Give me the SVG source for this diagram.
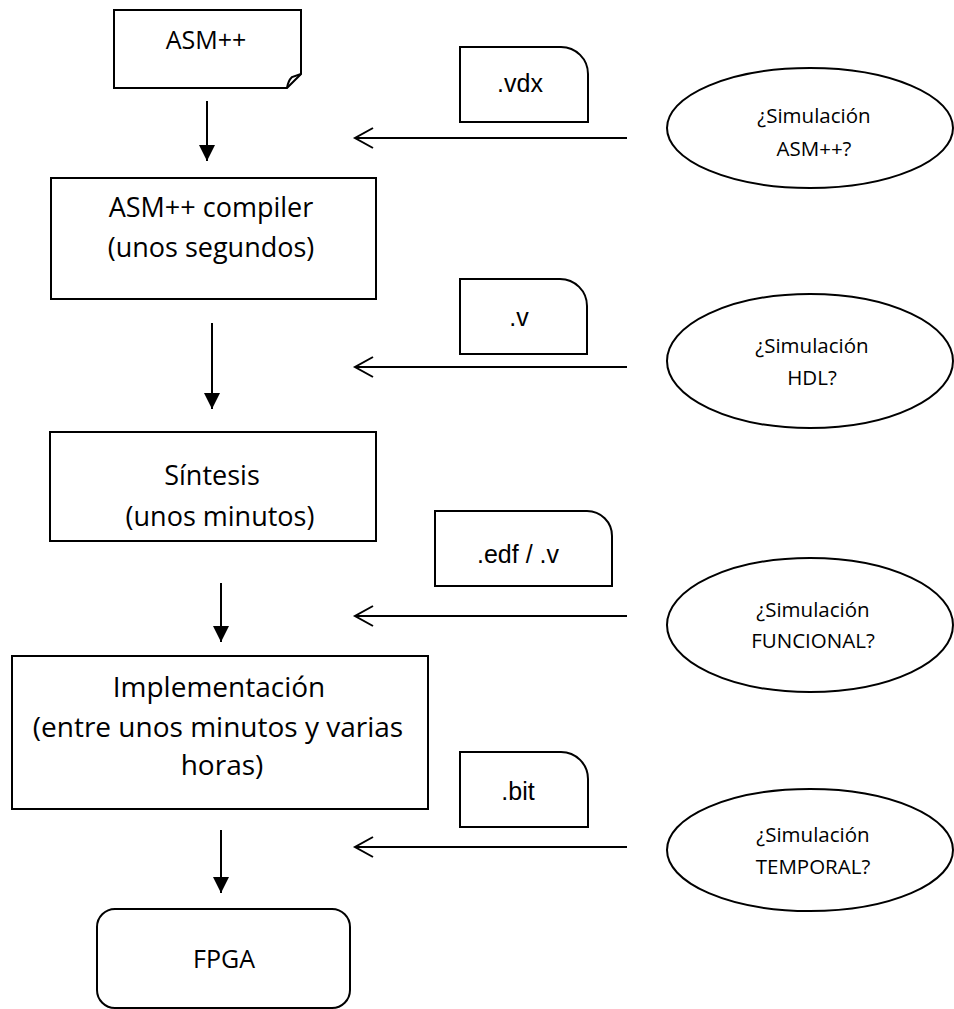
<svg xmlns="http://www.w3.org/2000/svg" width="954" height="1009" viewBox="0 0 954 1009">
  <defs>
    <style>
      .shape { fill: #ffffff; stroke: #000000; stroke-width: 2; }
      .flow { stroke: #000000; stroke-width: 2; fill: none; }
      .step { font-family: "Open Sans", "Liberation Sans", sans-serif; fill: #000000; text-anchor: middle; }
      .file { font-family: "Liberation Sans", Arial, sans-serif; font-size: 25px; fill: #000000; text-anchor: middle; }
      .ask { font-family: "Open Sans", "Liberation Sans", sans-serif; font-size: 20.5px; fill: #000000; text-anchor: middle; }
    </style>
    <!-- solid head for the main flow -->
    <marker id="solid" markerUnits="userSpaceOnUse" markerWidth="16" markerHeight="16" refX="16" refY="8" orient="auto" overflow="visible">
      <path d="M0,0 L16,8 L0,16 Z" fill="#000000"/>
    </marker>
    <!-- open head for the simulation feedback lines -->
    <marker id="open" markerUnits="userSpaceOnUse" markerWidth="20" markerHeight="22" refX="18" refY="10" orient="auto" overflow="visible">
      <path d="M0,0 L18,10 L0,20" fill="none" stroke="#000000" stroke-width="2"/>
    </marker>
  </defs>

  <rect width="954" height="1009" fill="#ffffff"/>

  <!-- connectors -->
  <g id="connectors">
    <line class="flow" x1="207" y1="101" x2="207" y2="161" marker-end="url(#solid)"/>
    <line class="flow" x1="212" y1="323" x2="212" y2="409" marker-end="url(#solid)"/>
    <line class="flow" x1="221" y1="583" x2="221" y2="642" marker-end="url(#solid)"/>
    <line class="flow" x1="221" y1="830" x2="221" y2="893" marker-end="url(#solid)"/>

    <line class="flow" x1="627" y1="138" x2="355" y2="138" marker-end="url(#open)"/>
    <line class="flow" x1="627" y1="367" x2="355" y2="367" marker-end="url(#open)"/>
    <line class="flow" x1="627" y1="616" x2="355" y2="616" marker-end="url(#open)"/>
    <line class="flow" x1="627" y1="847" x2="355" y2="847" marker-end="url(#open)"/>
  </g>

  <!-- source document -->
  <g id="asm-source">
    <path class="shape" d="M114,10 L301,10 L301,74 L287,88 L114,88 Z"/>
    <path class="flow" d="M301,74 L292,77 Q288,81 287,88"/>
    <text class="step" x="206" y="49" font-size="25">ASM++</text>
  </g>

  <g id="asm-compiler">
    <rect class="shape" x="51" y="178" width="325" height="121"/>
    <text class="step" x="211" y="217" font-size="27">ASM++ compiler</text>
    <text class="step" x="211" y="257" font-size="27">(unos segundos)</text>
  </g>

  <g id="sintesis">
    <rect class="shape" x="50" y="432" width="326" height="109"/>
    <text class="step" x="212" y="485" font-size="27">Síntesis</text>
    <text class="step" x="220" y="526" font-size="27">(unos minutos)</text>
  </g>

  <g id="implementacion">
    <rect class="shape" x="12" y="656" width="416" height="153"/>
    <text class="step" x="219" y="697" font-size="28">Implementación</text>
    <text class="step" x="218" y="737" font-size="28">(entre unos minutos y varias</text>
    <text class="step" x="222" y="775" font-size="28">horas)</text>
  </g>

  <g id="fpga">
    <rect class="shape" x="97" y="909" width="253" height="99" rx="18" ry="18"/>
    <text class="step" x="224" y="968" font-size="25">FPGA</text>
  </g>

  <!-- generated files -->
  <g id="file-vdx">
    <path class="shape" d="M460,47 L561,47 A27,27 0 0 1 588,74 L588,122 L460,122 Z"/>
    <text class="file" x="520" y="92">.vdx</text>
  </g>

  <g id="file-v">
    <path class="shape" d="M460,279 L560,279 A27,27 0 0 1 587,306 L587,354 L460,354 Z"/>
    <text class="file" x="519" y="326">.v</text>
  </g>

  <g id="file-edf">
    <path class="shape" d="M435,511 L587,511 A25,25 0 0 1 612,536 L612,586 L435,586 Z"/>
    <text class="file" x="518" y="563">.edf / .v</text>
  </g>

  <g id="file-bit">
    <path class="shape" d="M460,752 L561,752 A27,27 0 0 1 588,779 L588,827 L460,827 Z"/>
    <text class="file" x="518" y="800">.bit</text>
  </g>

  <!-- simulation checkpoints -->
  <g id="sim-asm">
    <ellipse class="shape" cx="810" cy="128" rx="143" ry="60"/>
    <text class="ask" x="814" y="123">¿Simulación</text>
    <text class="ask" x="814" y="156">ASM++?</text>
  </g>

  <g id="sim-hdl">
    <ellipse class="shape" cx="810" cy="361" rx="143" ry="67"/>
    <text class="ask" x="812" y="353">¿Simulación</text>
    <text class="ask" x="812" y="385">HDL?</text>
  </g>

  <g id="sim-funcional">
    <ellipse class="shape" cx="810" cy="625" rx="143" ry="67"/>
    <text class="ask" x="813" y="617">¿Simulación</text>
    <text class="ask" x="813" y="648">FUNCIONAL?</text>
  </g>

  <g id="sim-temporal">
    <ellipse class="shape" cx="810" cy="850" rx="143" ry="61"/>
    <text class="ask" x="813" y="842">¿Simulación</text>
    <text class="ask" x="813" y="874">TEMPORAL?</text>
  </g>
</svg>
